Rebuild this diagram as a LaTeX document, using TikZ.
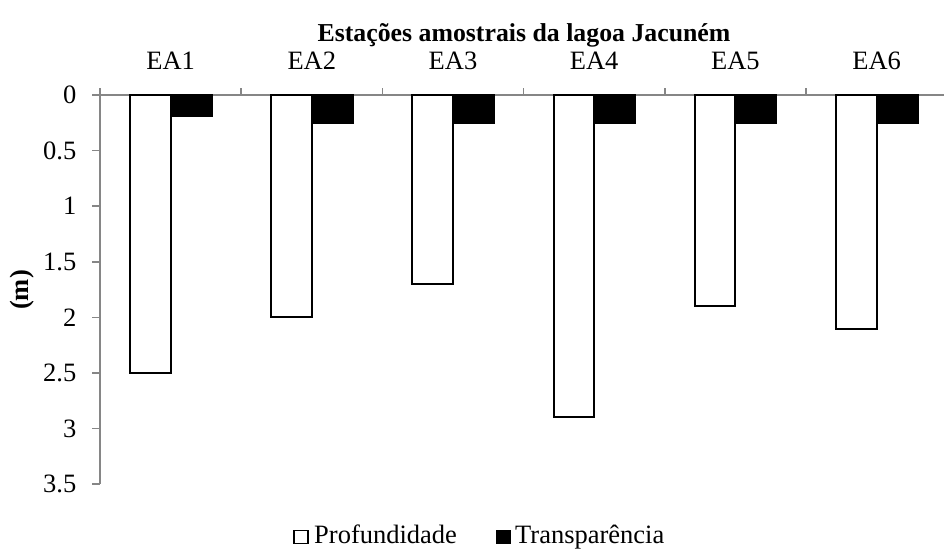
\documentclass[tikz,border=0pt]{standalone}
\usepackage{fontspec}
\setmainfont{Liberation Serif}
\definecolor{axisgray}{RGB}{134,134,134}
\begin{document}
\begin{tikzpicture}[x=1pt,y=-1pt,
  every node/.style={font=\fontsize{26.5}{30}\selectfont, inner sep=0pt},
  axisline/.style={draw=axisgray, line width=1.5pt},
  pbar/.style={draw=black, line width=2pt, fill=white},
  tbar/.style={draw=black, line width=2pt, fill=black},
  legbox/.style={draw=black, line width=1.5pt}]
\useasboundingbox[fill=white] (0,0) rectangle (944,554);
% axes
\draw[axisline] (100,88) -- (100,484.2);
\draw[axisline] (92,95) -- (944,95);
\foreach \v/\t [count=\i] in {0/0,0.5/0.5,1/1,1.5/1.5,2/2,2.5/2.5,3/3,3.5/3.5}{
  \draw[axisline] (92,95+\v*111.2) -- (100,95+\v*111.2);
  \node[anchor=east] (yl\i) at (76.5,95+\v*111.2) {\t};
}
\foreach \k in {1,...,5}{
  \draw[axisline] (100+\k*141.2,88) -- (100+\k*141.2,95);
}
% bars
\foreach \p/\q [count=\k from 0] in {2.5/0.19,2.0/0.25,1.7/0.25,2.9/0.25,1.9/0.25,2.1/0.25}{
  \pgfmathsetmacro{\c}{100+\k*141.2}
  \draw[pbar] (\c+30,95) rectangle (\c+70.5,95+\p*111.2);
  \draw[tbar] (\c+70.5,95) rectangle (\c+111.5,95+\q*111.2);
  \node[anchor=base] (cat\k) at (\c+70.6,69.3) {EA\the\numexpr\k+1\relax};
}
% title and axis label
\node[anchor=base, font=\fontsize{25.8}{30}\selectfont\bfseries] (title) at (524,41.7) {Estações amostrais da lagoa Jacuném};
\node[rotate=90, font=\fontsize{26.5}{30}\selectfont\bfseries] (ylab) at (22,290) {(m)};
% legend
\draw[legbox, fill=white] (294,530.5) rectangle (308,543.5);
\node[anchor=base west] (leg1) at (314,543.5) {Profundidade};
\draw[legbox, fill=black] (496.5,530.5) rectangle (510,543.5);
\node[anchor=base west] (leg2) at (515,543.5) {Transparência};
\end{tikzpicture}
\end{document}
